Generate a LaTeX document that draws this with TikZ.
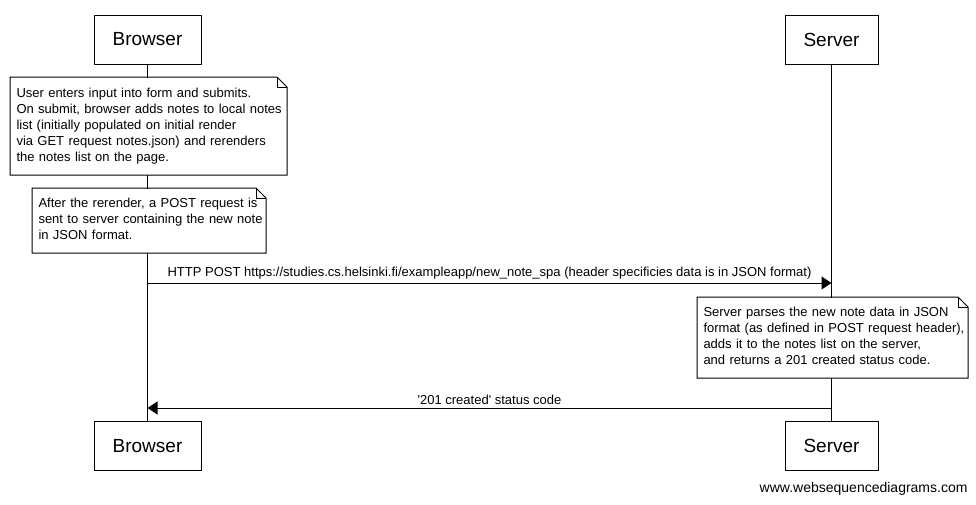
\documentclass[tikz,border=0pt]{standalone}
\usepackage{fontspec}
\setmainfont{Liberation Sans}
\usetikzlibrary{calc,arrows.meta}
\def\noteframe(#1){\draw ($(#1.north east)+(-10,0)$) -- (#1.north west) -- (#1.south west) -- (#1.south east) -- ($(#1.north east)+(0,10)$) -- cycle;
	\draw ($(#1.north east)+(-10,0)$) -- ($(#1.north east)+(-10,10)$) -- ($(#1.north east)+(0,10)$);}
\def\notelines#1{\begin{tabular}{@{}l@{}}#1\end{tabular}}

\begin{document}
\begin{tikzpicture}[x=1pt,y=-1pt,line width=1pt,
	actor/.style={draw,fill=white,inner sep=0pt,minimum height=49pt,font=\fontsize{19}{22}\selectfont},
	note/.style={fill=white,anchor=north west,inner xsep=6pt,inner ysep=0pt,align=left,font=\fontsize{13}{16}\selectfont},
	msg/.style={-{Triangle[length=10pt,width=13pt]}},
	msglabel/.style={midway,above,inner sep=3pt,font=\fontsize{13}{16}\selectfont}]
	%%%%% START %%%%%
	\useasboundingbox (0,0) rectangle (976,504);
	
	\node[actor,minimum width=107pt] (btop) at (147.5,39.5) {Browser};
	\node[actor,minimum width=93pt] (stop) at (831.5,39.5) {Server};
	\node[actor,minimum width=107pt] (bbot) at (147.5,446) {Browser};
	\node[actor,minimum width=93pt] (sbot) at (831.5,446) {Server};
	
	\draw (btop) -- (bbot);
	\draw (stop) -- (sbot);
	
	\node[note,minimum width=276pt,minimum height=97pt,text width=264pt] (note1) at (10,77) {\notelines{User enters input into form and submits.\\On submit, browser adds notes to local notes\\list (initially populated on initial render\\via GET request notes.json) and rerenders\\the notes list on the page.}};
	\noteframe(note1)
	
	\node[note,minimum width=233pt,minimum height=64pt,text width=221pt] (note2) at (32,188) {\notelines{After the rerender, a POST request is\\sent to server containing the new note\\in JSON format.}};
	\noteframe(note2)
	
	\coordinate (ypost) at (0,283);
	\draw[msg] (btop |- ypost) -- (stop |- ypost) node[msglabel] {HTTP POST https://studies.cs.helsinki.fi/exampleapp/new\_note\_spa (header specificies data is in JSON format)};
	
	\node[note,minimum width=270pt,minimum height=80pt,text width=258pt] (note3) at (697,297) {\notelines{Server parses the new note data in JSON\\format (as defined in POST request header),\\adds it to the notes list on the server,\\and returns a 201 created status code.}};
	\noteframe(note3)
	
	\coordinate (yresp) at (0,408);
	\draw[msg] (stop |- yresp) -- (btop |- yresp) node[msglabel] {\textquotesingle 201 created\textquotesingle{} status code};
	
	\node[anchor=east,inner sep=0pt,font=\fontsize{14}{16}\selectfont] (credit) at (968,489) {www.websequencediagrams.com};
	%%%%% END %%%%%
\end{tikzpicture}
\end{document}
